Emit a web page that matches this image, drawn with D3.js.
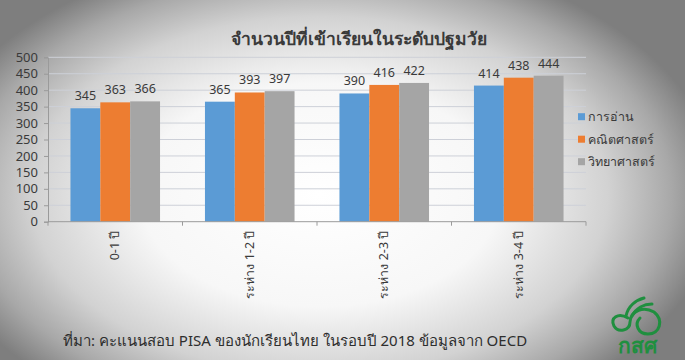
<!DOCTYPE html>
<html><head><meta charset="utf-8">
<script src="https://cdn.jsdelivr.net/npm/d3@7"></script>
<style>html,body{margin:0;padding:0;background:#fff;}svg{display:block;}</style>
</head><body>
<svg id="c" width="685" height="360"></svg>
<script>
const categories = ["0-1 ปี", "ระห่าง 1-2 ปี", "ระห่าง 2-3 ปี", "ระห่าง 3-4 ปี"];
const seriesNames = ["การอ่าน", "คณิตศาสตร์", "วิทยาศาสตร์"];
const reading = [345, 365, 390, 414];
const math = [363, 393, 416, 438];
const science = [366, 397, 422, 444];
const seriesColors = ["#5B9BD5", "#ED7D31", "#A5A5A5"];
const yTicks = [0, 50, 100, 150, 200, 250, 300, 350, 400, 450, 500];
const chartTitle = "จำนวนปีที่เข้าเรียนในระดับปฐมวัย";
const footerText = "ที่มา: คะแนนสอบ PISA ของนักเรียนไทย ในรอบปี 2018 ข้อมูลจาก OECD";

const seriesValues = [reading, math, science];
const W = 685, H = 360;
const svg = d3.select("#c");
const font = "'Noto Sans', 'DejaVu Sans', sans-serif";

// vignette background
const defs = svg.append("defs");
const rg = defs.append("radialGradient").attr("id", "vig")
  .attr("gradientUnits", "userSpaceOnUse")
  .attr("cx", 320).attr("cy", 195).attr("r", 400)
  .attr("gradientTransform", "translate(320,195) scale(1,0.62) translate(-320,-195)");
rg.append("stop").attr("offset", "0").attr("stop-color", "#ffffff");
rg.append("stop").attr("offset", "0.45").attr("stop-color", "#f7f7f7");
rg.append("stop").attr("offset", "0.72").attr("stop-color", "#d2d2d2");
rg.append("stop").attr("offset", "0.88").attr("stop-color", "#a8a8a8");
rg.append("stop").attr("offset", "1").attr("stop-color", "#7e7e7e");
svg.append("rect").attr("width", W).attr("height", H).attr("fill", "url(#vig)");

const pLeft = 48, pRight = 586, pTop = 57.3, pBottom = 221.7;
const y = d3.scaleLinear().domain([0, 500]).range([pBottom, pTop]);
const x0 = d3.scaleBand().domain(categories).range([pLeft, pRight]).padding(0);
const bw = x0.bandwidth();
const x1 = d3.scaleBand().domain(seriesNames).range([bw * 0.167, bw * 0.833]).padding(0);

// gridlines
svg.append("g").selectAll("line").data(yTicks.filter(d => d > 0)).join("line")
  .attr("x1", pLeft).attr("x2", pRight)
  .attr("y1", d => y(d)).attr("y2", d => y(d))
  .attr("stroke", "#cdd0d8").attr("stroke-width", 1);

// y axis
const yAxis = d3.axisLeft(y).tickValues(yTicks).tickSize(4).tickPadding(6);
const yg = svg.append("g").attr("transform", `translate(${pLeft},0)`).call(yAxis);
yg.select(".domain").attr("stroke", "#9a9a9a");
yg.selectAll(".tick line").attr("stroke", "#9a9a9a");
yg.selectAll("text").attr("font-family", font).attr("font-size", 13).attr("fill", "#3a3a3a");

// bars
const groups = svg.append("g").selectAll("g").data(categories).join("g")
  .attr("transform", d => `translate(${x0(d)},0)`);
groups.each(function(cat, ci) {
  const g = d3.select(this);
  const data = seriesNames.map((s, si) => ({ s, si, v: seriesValues[si][ci] }));
  g.selectAll("rect").data(data).join("rect")
    .attr("x", d => x1(d.s)).attr("width", x1.bandwidth())
    .attr("y", d => y(d.v)).attr("height", d => y(0) - y(d.v))
    .attr("fill", d => seriesColors[d.si]);
  g.selectAll("text").data(data).join("text")
    .attr("x", d => x1(d.s) + x1.bandwidth() / 2)
    .attr("y", d => y(d.v) - 8)
    .attr("text-anchor", "middle")
    .attr("font-family", font).attr("font-size", 12.5).attr("fill", "#3a3a3a")
    .text(d => d.v);
});

// x axis
const xg = svg.append("g").attr("transform", `translate(0,${pBottom})`);
xg.append("line").attr("x1", pLeft).attr("x2", pRight).attr("stroke", "#9a9a9a");
const bounds = categories.map(c => x0(c)).concat([pRight]);
xg.selectAll("line.t").data(bounds).join("line").attr("class", "t")
  .attr("x1", d => d).attr("x2", d => d).attr("y1", 0).attr("y2", 4).attr("stroke", "#9a9a9a");
xg.selectAll("text.cat").data(categories).join("text").attr("class", "cat")
  .attr("transform", d => `translate(${x0(d) + bw / 2 + 4},9) rotate(-90)`)
  .attr("text-anchor", "end")
  .attr("font-family", font).attr("font-size", 12.5).attr("fill", "#3a3a3a")
  .text(d => d);

// legend
const li = svg.append("g").selectAll("g").data(seriesNames).join("g")
  .attr("transform", (d, i) => `translate(578,${116.7 + i * 22.5})`);
li.append("rect").attr("x", 0).attr("y", -3.5).attr("width", 7).attr("height", 7)
  .attr("fill", (d, i) => seriesColors[i]);
li.append("text").attr("x", 10).attr("y", 4.5)
  .attr("font-family", font).attr("font-size", 12.5).attr("fill", "#3a3a3a").text(d => d);

// title
svg.append("text").attr("x", 359).attr("y", 45).attr("text-anchor", "middle")
  .attr("font-family", font).attr("font-size", 17.5).attr("font-weight", 600).attr("fill", "#3a3a3a").text(chartTitle);

// footer
svg.append("text").attr("x", 63).attr("y", 346)
  .attr("font-family", font).attr("font-size", 15).attr("fill", "#2e2e2e").text(footerText);

// logo
const logo = svg.append("g").attr("fill", "none").attr("stroke", "#1f8f3f").attr("stroke-width", 3).attr("stroke-linecap", "round");
logo.append("path").attr("d", "M628,318 C618,312 610,318 614,326 C618,333 630,331 630,322 C631,310 644,306 654,312 C664,320 660,334 648,334 C638,334 634,324 640,318");
logo.append("path").attr("d", "M626,316 C628,306 636,300 644,298");
logo.append("path").attr("d", "M632,316 C636,308 644,304 652,304");
svg.append("text").attr("x", 637).attr("y", 353).attr("text-anchor", "middle")
  .attr("font-family", font).attr("font-size", 21).attr("font-weight", "bold").attr("fill", "#1f8f3f").text("กสศ");
</script>
</body></html>
